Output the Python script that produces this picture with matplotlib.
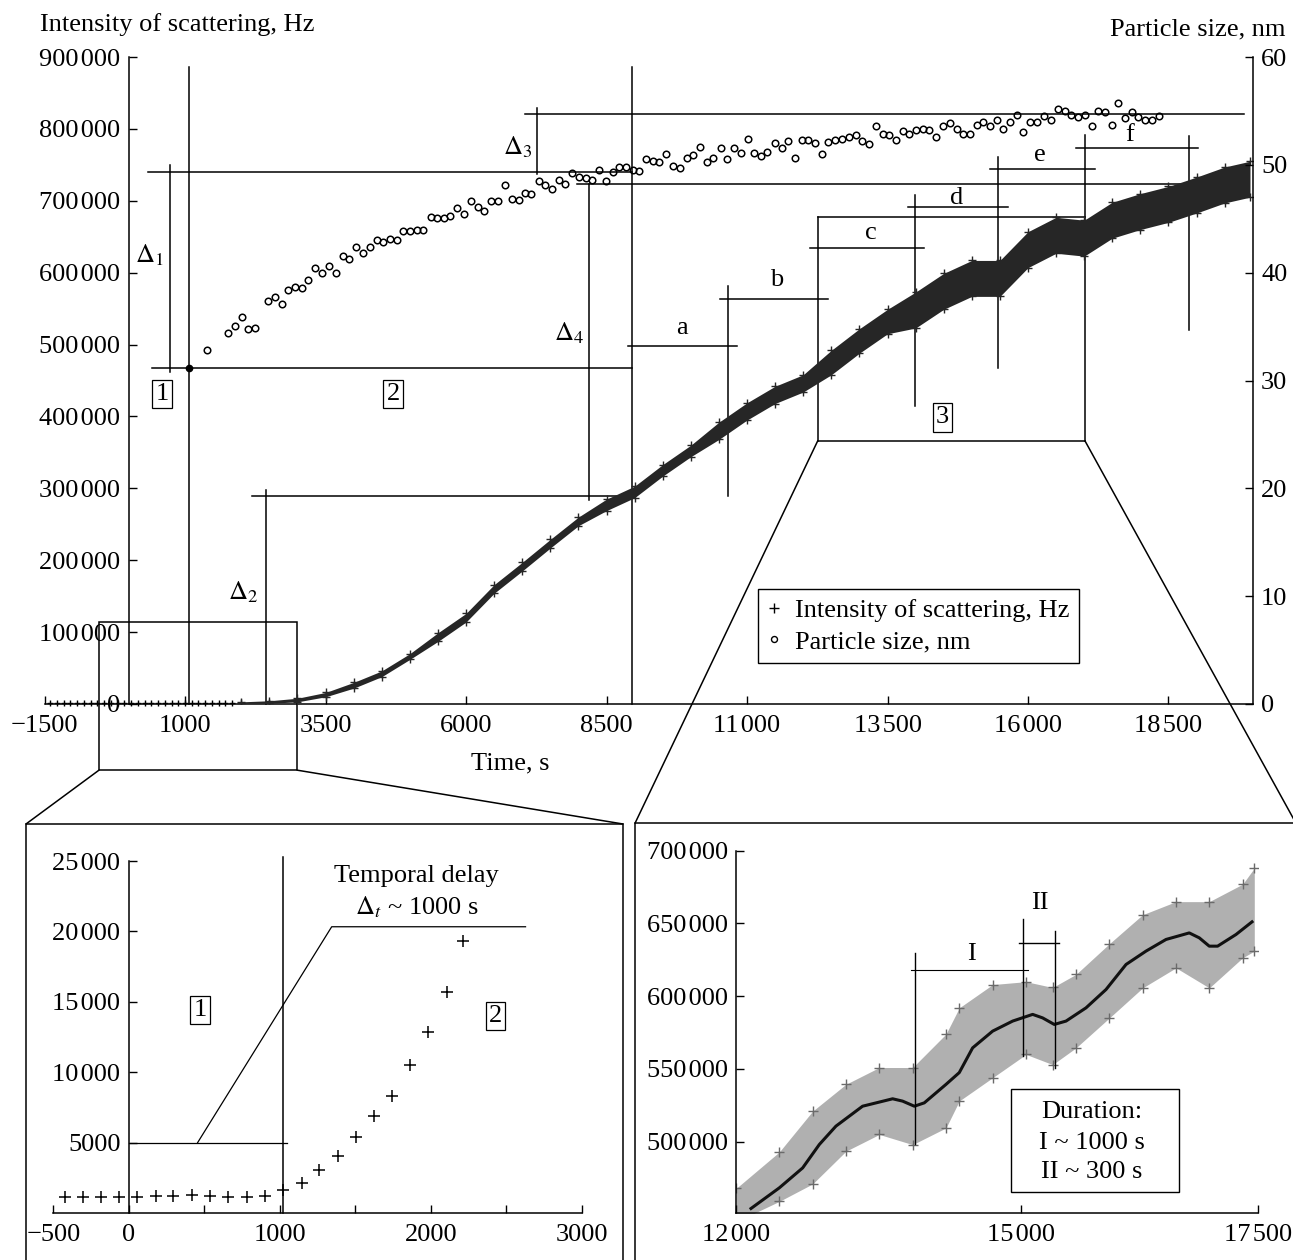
import matplotlib
matplotlib.use('Agg')
import matplotlib.pyplot as plt
from matplotlib.patches import Rectangle, ConnectionPatch
from matplotlib.lines import Line2D

plt.rcParams['font.family'] = ['Liberation Serif', 'DejaVu Serif']
plt.rcParams['mathtext.fontset'] = 'stix'
plt.rcParams['font.size'] = 19

# ------------------------------------------------------------------ data
# main chart: intensity (Hz) vs time (s)
EARLY_T = [-1400, -1280, -1160, -1040, -920, -800, -680, -560, -440, -320, -200,
           -80, 40, 160, 280, 400, 520, 640, 760, 880, 1000, 1120, 1240, 1360,
           1480, 1600, 1720, 1840]
EARLY_I = [1200] * 28

MAIN_T = [2000, 2500, 3000, 3500, 4000, 4500, 5000, 5500, 6000, 6500, 7000, 7500,
          8000, 8500, 9000, 9500, 10000, 10500, 11000, 11500, 12000, 12500, 13000,
          13500, 14000, 14500, 15000, 15500, 16000, 16500, 17000, 17500, 18000,
          18500, 19000, 19500, 19950]
MAIN_LO = [1000, 1000, 3000, 10000, 22000, 38000, 62000, 87000, 114000, 154000,
           185000, 217000, 248000, 269000, 287000, 317000, 344000, 368000, 395000,
           418000, 434000, 458000, 488000, 515000, 523000, 549000, 567000, 567000,
           607000, 627000, 623000, 648000, 660000, 670000, 683000, 697000, 705000]
MAIN_HI = [3000, 4500, 8000, 16000, 30000, 46000, 70000, 99000, 126000, 166000,
           197000, 229000, 260000, 285000, 303000, 333000, 360000, 392000, 419000,
           442000, 458000, 492000, 522000, 549000, 573000, 599000, 617000, 617000,
           657000, 677000, 673000, 698000, 710000, 720000, 733000, 747000, 755000]

# particle size (nm) vs time (s)
SIZE_T = [1397, 1771, 1890, 2009, 2126, 2246, 2482, 2601, 2721, 2838, 2957, 3077,
          3194, 3313, 3432, 3568, 3687, 3806, 3924, 4043, 4173, 4292, 4411, 4529,
          4648, 4767, 4884, 5004, 5123, 5240, 5372, 5489, 5609, 5715,
          5846, 5964, 6095, 6213, 6320, 6440, 6569, 6700, 6819, 6938, 7050, 7162,
          7293, 7411, 7530, 7649, 7762, 7891, 8011, 8130, 8247, 8367, 8486, 8610,
          8728, 8847, 8966, 9084, 9203, 9322, 9440, 9559, 9689, 9808, 9927, 10045,
          10164, 10283, 10400, 10532, 10650, 10769, 10888, 11018, 11125, 11244,
          11361, 11498, 11617, 11735, 11854, 11973, 12091, 12210, 12329, 12447,
          12566, 12696, 12815, 12934, 13052, 13171, 13295,
          13414, 13532, 13651, 13770, 13888, 14007, 14126, 14244, 14363, 14493,
          14612, 14731, 14849, 14968, 15087, 15205, 15324, 15443, 15561, 15680,
          15799, 15917, 16036, 16155, 16285, 16404, 16534, 16653, 16770, 16890,
          17014, 17133, 17251, 17370, 17489, 17607, 17726, 17845, 17963, 18082,
          18201, 18331]
SIZE = [32.8, 34.4, 35.1, 35.9, 34.8, 34.9, 37.4, 37.7, 37.1, 38.4, 38.7, 38.6,
        39.3, 40.4, 40.0, 40.6, 40.0, 41.5, 41.3, 42.4, 41.8, 42.4, 43.0, 42.8,
        43.1, 43.0, 43.9, 43.9, 44.0, 44.0, 45.2, 45.1, 45.1, 45.3,
        46.0, 45.4, 46.6, 46.1, 45.7, 46.6, 46.6, 48.1, 46.8, 46.7, 47.4, 47.3,
        48.5, 48.1, 47.8, 48.6, 48.2, 49.2, 48.9, 48.8, 48.6, 49.5, 48.5, 49.3,
        49.8, 49.8, 49.5, 49.4, 50.5, 50.4, 50.3, 51.0, 49.9, 49.7, 50.6, 50.9,
        51.7, 50.3, 50.6, 51.6, 50.5, 51.6, 51.1, 52.4, 51.1, 50.8, 51.2, 52.0,
        51.6, 52.2, 50.6, 52.3, 52.3, 52.0, 51.0, 52.1, 52.3, 52.4, 52.6, 52.8,
        52.2, 51.9, 53.6,
        52.9, 52.8, 52.3, 53.1, 52.9, 53.2, 53.3, 53.2, 52.6, 53.6, 53.9, 53.3,
        52.9, 52.9, 53.7, 54.0, 53.6, 54.2, 53.3, 54.0, 54.6, 53.0, 54.0, 54.0,
        54.5, 54.2, 55.2, 55.0, 54.6, 54.4, 54.6, 53.6, 55.0, 54.9, 53.7, 55.7,
        54.3, 54.9, 54.4, 54.2, 54.2, 54.5]

MAIN_XTICKS = [-1500, 1000, 3500, 6000, 8500, 11000, 13500, 16000, 18500]
MAIN_YTICKS = [0, 100000, 200000, 300000, 400000, 500000, 600000, 700000, 800000, 900000]
SIZE_TICKS = [0, 10, 20, 30, 40, 50, 60]

# left inset: start of the growth
INSET_L_T = [-422, -301, -184, -65, 56, 178, 295, 417, 538, 659, 781, 902, 1023,
             1145, 1262, 1388, 1505, 1624, 1745, 1864, 1984, 2105, 2215]
INSET_L_I = [1160, 1160, 1160, 1110, 1160, 1210, 1210, 1280, 1210, 1110, 1160, 1210,
             1630, 2110, 3050, 4050, 5420, 6890, 8330, 10510, 12830, 15720, 19340]
INSET_L_XTICKS = [-500, 0, 500, 1000, 1500, 2000, 2500, 3000]
INSET_L_XLABELED = [-500, 0, 1000, 2000, 3000]
INSET_L_YTICKS = [5000, 10000, 15000, 20000, 25000]

# right inset: region 3 with smoothed trend
R_BAND_T = [12000, 12454, 12805, 13157, 13508, 13860, 14212, 14352, 14704, 15056,
            15337, 15583, 15934, 16286, 16638, 16989, 17341, 17464]
R_LO = [445000, 459000, 471000, 493500, 505000, 498000, 509500, 528000, 544000,
        560000, 553000, 564500, 585000, 605700, 619500, 605700, 626400, 631000]
R_HI = [468000, 493000, 521000, 539500, 551000, 551000, 574000, 592000, 608000,
        610000, 606000, 615000, 636000, 656000, 665000, 665000, 677000, 688000]
R_CURVE_T = [12155, 12454, 12700, 12876, 13051, 13332, 13649, 13754, 13878, 13983,
             14212, 14352, 14493, 14704, 14915, 15126, 15231, 15354, 15478, 15689,
             15900, 16111, 16322, 16533, 16778, 16884, 16989, 17077, 17271, 17440]
R_CURVE_I = [454100, 468300, 482000, 498100, 510700, 524400, 529500, 527900, 524400,
             526700, 539400, 547500, 564500, 576000, 582900, 587500, 585100, 580600,
             582900, 592000, 604600, 621800, 631000, 639000, 643500, 640100, 634400,
             634400, 642400, 651100]
R_XTICKS = [12000, 15000, 17500]
R_YTICKS = [500000, 550000, 600000, 650000, 700000]

# ------------------------------------------------------------------ layout
W, H = 1293, 1260
fig = plt.figure(figsize=(W / 100, H / 100), dpi=100)


def rect(x0, y0, x1, y1):
    return [x0 / W, 1 - y1 / H, (x1 - x0) / W, (y1 - y0) / H]


def fpt(px, py):
    return (px / W, 1 - py / H)


def fmt(v):
    s = str(abs(int(v)))
    if len(s) > 4:
        s = s[:-3] + '\u200a' + s[-3:]
    return ('\u2212' if v < 0 else '') + s


LW = 1.1
TICK = dict(direction='in', length=6, width=1.0, labelsize=19, pad=6)
BOX = dict(boxstyle='square,pad=0.12', fc='white', ec='k', lw=0.9)

# ------------------------------------------------------------------ main axes
ax = fig.add_axes(rect(44.5, 57, 1252.8, 704))
ax.set_xlim(-1500, 20000)
ax.set_ylim(0, 900000)
for s in ('top', 'right'):
    ax.spines[s].set_visible(False)
ax.spines['left'].set_position(('data', 0))
for s in ('left', 'bottom'):
    ax.spines[s].set_linewidth(LW)
ax.set_xticks(MAIN_XTICKS, [fmt(v) for v in MAIN_XTICKS])
ax.set_yticks(MAIN_YTICKS, [fmt(v) for v in MAIN_YTICKS])
ax.tick_params(**TICK)
ax.tick_params(axis='x', pad=8)

ax.fill_between(MAIN_T, MAIN_LO, MAIN_HI, color='#262626', lw=0, zorder=3)
ax.plot(MAIN_T, MAIN_LO, '+', color='#262626', ms=6, mew=1.0, zorder=3)
ax.plot(MAIN_T, MAIN_HI, '+', color='#262626', ms=6, mew=1.0, zorder=3)
ax.plot(EARLY_T, EARLY_I, '+', color='k', ms=5, mew=1.0, clip_on=False, zorder=3)

ax2 = ax.twinx()
ax2.set_ylim(0, 60)
for s in ('top', 'left', 'bottom'):
    ax2.spines[s].set_visible(False)
ax2.spines['right'].set_linewidth(LW)
ax2.set_yticks(SIZE_TICKS, [str(v) for v in SIZE_TICKS])
ax2.tick_params(**TICK)
ax2.plot(SIZE_T, SIZE, 'o', mfc='none', mec='k', ms=4.7, mew=1.1, zorder=4)

# annotation lines (time, intensity)
MAIN_LINES = [
    ((1070, 1070), (0, 886000)),
    ((407, 8960), (468000, 468000)),
    ((739, 739), (462000, 749600)),
    ((347, 8960), (740300, 740300)),
    ((7258, 7258), (737100, 829300)),
    ((7050, 19850), (820200, 820200)),
    ((7970, 19850), (723200, 723200)),
    ((8189, 8189), (283700, 723200)),
    ((8960, 8960), (0, 886300)),
    ((2187, 8960), (289700, 289700)),
    ((2436, 2436), (0, 297600)),
    ((8877, 10827), (497900, 497900)),
    ((10656, 10656), (289300, 581800)),
    ((10520, 12447), (563300, 563300)),
    ((12258, 12258), (366000, 677700)),
    ((12121, 14149), (634600, 634600)),
    ((13989, 13989), (414500, 707900)),
    ((13870, 15649), (690800, 690800)),
    ((15461, 15461), (466900, 761200)),
    ((15324, 17192), (744100, 744100)),
    ((17014, 17014), (366000, 791400)),
    ((16849, 19030), (773700, 773700)),
    ((18870, 18870), (520200, 790000)),
    ((12258, 17014), (677700, 677700)),
    ((12258, 17014), (366000, 366000)),
]
for xs, ys in MAIN_LINES:
    ax.plot(xs, ys, color='k', lw=LW, clip_on=False, zorder=2)
ax.plot([1070], [468000], 'o', color='k', ms=4.5, zorder=5)

MAIN_TEXT = [
    (375, 624500, r'$\Delta_1$'), (2037, 155300, r'$\Delta_2$'),
    (6913, 775100, r'$\Delta_3$'), (7838, 515600, r'$\Delta_4$'),
    (9849, 522500, 'a'), (11528, 589700, 'b'), (13201, 654600, 'c'),
    (14731, 703300, 'd'), (16214, 763600, 'e'), (17815, 791400, 'f'),
]
for x, y, t in MAIN_TEXT:
    ax.text(x, y, t, ha='center', va='center', fontsize=19, zorder=6)
for x, y, t in [(592, 431200, '1'), (4706, 431200, '2'), (14483, 398700, '3')]:
    ax.text(x, y, t, ha='center', va='center', fontsize=19, bbox=BOX, zorder=6)

# zoom box around the start of the curve
ax.add_patch(Rectangle((-530, -92000), 3523, 206000, fill=False, lw=LW,
                       clip_on=False, zorder=2))

handles = [Line2D([], [], ls='none', marker='+', color='k', ms=7, mew=1.0),
           Line2D([], [], ls='none', marker='o', mfc='none', mec='k', ms=4.3, mew=1.0)]
leg = ax2.legend(handles, ['Intensity of scattering, Hz', 'Particle size, nm'],
                 loc='upper left', bbox_to_anchor=fpt(758.3, 589.3),
                 bbox_transform=fig.transFigure, frameon=True, fancybox=False,
                 edgecolor='k', framealpha=1, borderaxespad=0, borderpad=0.35,
                 handlelength=0.5, handletextpad=0.55, labelspacing=0.3,
                 fontsize=19)
leg.get_frame().set_linewidth(1.0)

fig.text(40 / W, 1 - 25 / H, 'Intensity of scattering, Hz', ha='left', va='center', fontsize=19)
fig.text(1285 / W, 1 - 29 / H, 'Particle size, nm', ha='right', va='center', fontsize=19)
fig.text(510 / W, 1 - 763 / H, 'Time, s', ha='center', va='center', fontsize=19)

# ------------------------------------------------------------------ left inset
axL = fig.add_axes(rect(53.3, 861, 581.7, 1213))
axL.set_xlim(-500, 3000)
axL.set_ylim(0, 25000)
for s in ('top', 'right'):
    axL.spines[s].set_visible(False)
axL.spines['left'].set_position(('data', 0))
for s in ('left', 'bottom'):
    axL.spines[s].set_linewidth(LW)
axL.set_xticks(INSET_L_XTICKS,
               [fmt(v) if v in INSET_L_XLABELED else '' for v in INSET_L_XTICKS])
axL.set_yticks(INSET_L_YTICKS, [fmt(v) for v in INSET_L_YTICKS])
axL.tick_params(**TICK)
axL.tick_params(axis='x', pad=8)
axL.patch.set_alpha(0)
axL.plot(INSET_L_T, INSET_L_I, '+', color='k', ms=8, mew=1.1)

axL.plot((1020, 1020), (0, 25300), color='k', lw=LW, clip_on=False)
axL.plot((0, 1050), (5000, 5000), color='k', lw=0.9, clip_on=False)
axL.plot((456, 1344, 2628), (5000, 20330, 20330), color='k', lw=0.9, clip_on=False)
axL.text(1906, 23940, 'Temporal delay', ha='center', va='center', fontsize=19)
axL.text(1906, 21740, r'$\Delta_t$' + ' ~ 1000 s', ha='center', va='center', fontsize=19)
axL.text(473, 14420, '1', ha='center', va='center', fontsize=19, bbox=BOX)
axL.text(2430, 13990, '2', ha='center', va='center', fontsize=19, bbox=BOX)

# ------------------------------------------------------------------ right inset
axR = fig.add_axes(rect(736.3, 850.7, 1257.7, 1213.3))
axR.set_xlim(12000, 17500)
axR.set_ylim(450800, 700000)
for s in ('top', 'right'):
    axR.spines[s].set_visible(False)
for s in ('left', 'bottom'):
    axR.spines[s].set_linewidth(LW)
axR.set_xticks(R_XTICKS, [fmt(v) for v in R_XTICKS])
axR.set_yticks(R_YTICKS, [fmt(v) for v in R_YTICKS])
axR.tick_params(**TICK)
axR.tick_params(axis='x', pad=8)
axR.patch.set_alpha(0)

axR.fill_between(R_BAND_T, R_LO, R_HI, color='#8f8f8f', alpha=0.7, lw=0)
axR.plot(R_BAND_T, R_LO, '+', color='#6a6a6a', ms=7, mew=1.0)
axR.plot(R_BAND_T, R_HI, '+', color='#6a6a6a', ms=7, mew=1.0)
axR.plot(R_CURVE_T, R_CURVE_I, color='#111111', lw=2.2)

for xs, ys, lw in [((13885, 13885), (498100, 629800), 1.0),
                   ((13843, 15073), (617700, 617700), 0.8),
                   ((15020, 15020), (558800, 652800), 1.0),
                   ((14978, 15407), (636700, 636700), 1.0),
                   ((15365, 15365), (550800, 644700), 1.0)]:
    axR.plot(xs, ys, color='k', lw=lw)
axR.text(14480, 629100, 'I', ha='center', va='center', fontsize=19)
axR.text(15200, 664200, 'II', ha='center', va='center', fontsize=19)
axR.add_patch(Rectangle((14894, 465600), 1779, 70400, fill=False, lw=1.0))
axR.text(15752, 520600, 'Duration:', ha='center', va='center', fontsize=19)
axR.text(15752, 498900, 'I ~ 1000 s', ha='center', va='center', fontsize=19)
axR.text(15752, 479400, 'II ~ 300 s', ha='center', va='center', fontsize=19)

# ------------------------------------------------------------------ frames & connectors
fig.add_artist(Rectangle(fpt(26, 1270), (623 - 26) / W, (1270 - 824) / H,
                         transform=fig.transFigure, fill=False, lw=LW))
fig.add_artist(Rectangle(fpt(635, 1270), (1310 - 635) / W, (1270 - 823.3) / H,
                         transform=fig.transFigure, fill=False, lw=LW))
for (xa, ya), (px, py) in [((-530, -92000), (26, 824)), ((2993, -92000), (623, 824)),
                           ((12258, 366000), (635, 823.3)),
                           ((17014, 366000), (1296, 823.3))]:
    fig.add_artist(ConnectionPatch(xyA=(xa, ya), coordsA=ax.transData,
                                   xyB=fpt(px, py), coordsB=fig.transFigure,
                                   lw=LW, color='k'))

fig.savefig('out.png', dpi=100)
